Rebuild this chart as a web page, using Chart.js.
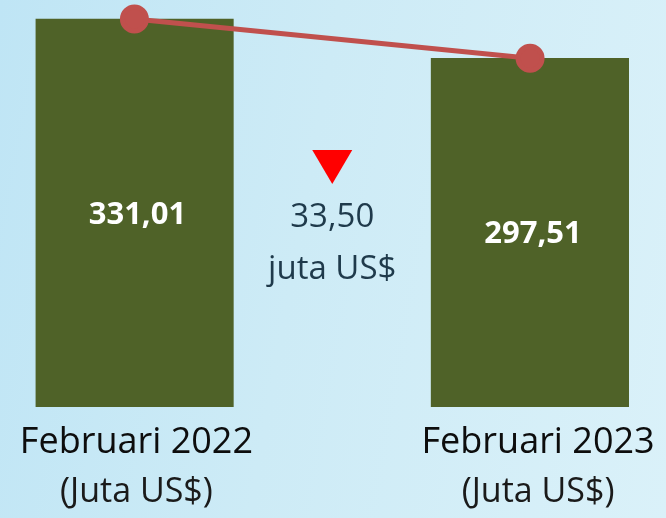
<!DOCTYPE html>
<html>
<head>
<meta charset="utf-8">
<script src="https://cdn.jsdelivr.net/npm/chart.js@4"></script>
<style>
  html, body { margin: 0; padding: 0; }
  body {
    width: 666px; height: 518px; overflow: hidden;
    background: linear-gradient(100deg, #bfe5f5 0%, #cdebf6 45%, #daf1f9 100%);
  }
  #wrap { position: relative; width: 666px; height: 518px; }
</style>
</head>
<body>
<div id="wrap"><canvas id="ekspor"></canvas></div>
<script>
// kategori: slot tengah dipakai untuk keterangan selisih
const categories = ['Februari 2022', '', 'Februari 2023'];
const subLabel = '(Juta US$)';
const values = [331.01, null, 297.51];
const valueLabels = ['331,01', '', '297,51'];
const changeValue = '33,50';
const changeUnit = 'juta US$';

const FONT = '"Open Sans", "Noto Sans", sans-serif';

// tulisan di dalam batang, label sumbu x dan keterangan selisih
const annotate = {
    id: 'annotate',
    afterDatasetsDraw(chart) {
        const c = chart.ctx;
        const x = chart.scales.x;
        const bars = chart.getDatasetMeta(1).data;
        c.save();
        c.textAlign = 'center';
        c.textBaseline = 'middle';

        c.fillStyle = '#ffffff';
        c.font = 'bold 31px ' + FONT;
        bars.forEach((b, i) => {
            if (values[i] === null) return;
            const p = b.getProps(['x', 'y', 'base'], true);
            c.fillText(valueLabels[i], p.x + 3, (p.y + p.base) / 2 + 2);
        });

        categories.forEach((lab, i) => {
            if (!lab) return;
            const cx = x.getPixelForValue(i) + (i === 0 ? 2 : 8);
            c.fillStyle = '#0d0d0d';
            c.font = '36px ' + FONT;
            c.fillText(lab, cx, 443);
            c.fillStyle = '#1a1a1a';
            c.font = '34px ' + FONT;
            c.fillText(subLabel, cx, 492);
        });

        // segitiga turun
        const mx = x.getPixelForValue(1);
        c.fillStyle = '#ff0000';
        c.beginPath();
        c.moveTo(mx - 20, 150);
        c.lineTo(mx + 20, 150);
        c.lineTo(mx, 184);
        c.closePath();
        c.fill();

        c.fillStyle = '#1f3a4b';
        c.font = '33px ' + FONT;
        c.fillText(changeValue, mx, 218);
        c.fillText(changeUnit, mx, 270);
        c.restore();
    }
};

new Chart(document.getElementById('ekspor'), {
    data: {
        labels: categories,
        datasets: [{
            type: 'line',
            data: values,
            borderColor: '#c0504d',
            backgroundColor: '#c0504d',
            borderWidth: 5,
            pointRadius: 12,
            pointHoverRadius: 12,
            spanGaps: true,
            clip: false,
            order: 0
        }, {
            type: 'bar',
            data: values,
            backgroundColor: '#4f6228',
            borderWidth: 0,
            barPercentage: 1,
            categoryPercentage: 1,
            order: 1
        }]
    },
    options: {
        responsive: true,
        maintainAspectRatio: false,
        animation: false,
        layout: { autoPadding: false, padding: { left: 35.5, right: 37, top: 0, bottom: 111 } },
        plugins: { legend: { display: false }, tooltip: { enabled: false } },
        scales: {
            x: { display: false, offset: true, grid: { display: false } },
            y: { display: false, min: 0, max: 347.2 }
        }
    },
    plugins: [annotate]
});
</script>
</body>
</html>
